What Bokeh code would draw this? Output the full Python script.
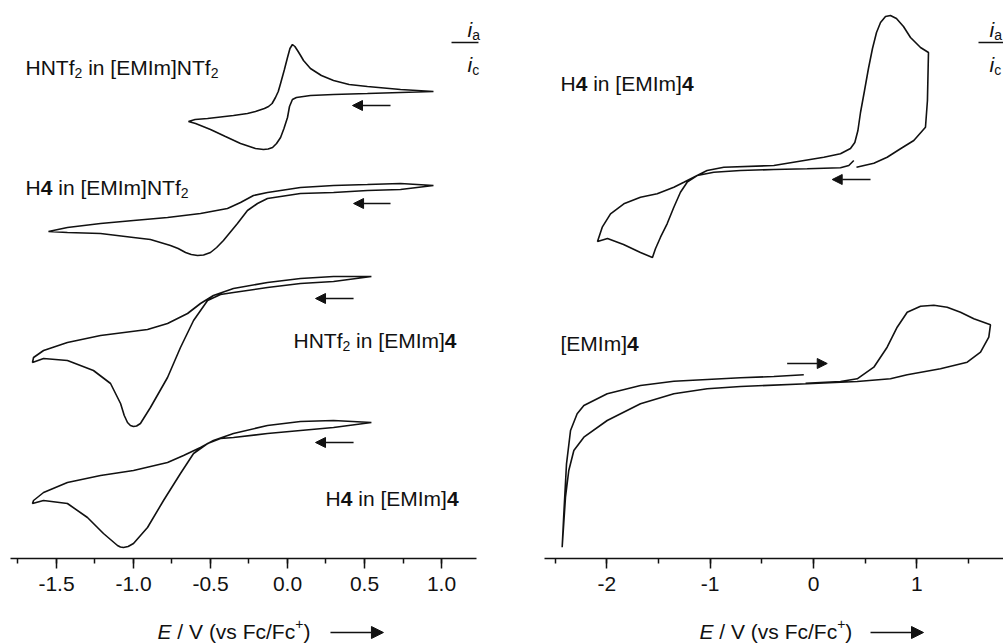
from bokeh.plotting import figure
from bokeh.layouts import row, column
from bokeh.models import (Label, Arrow, NormalHead, Range1d,
                          SingleIntervalTicker, NumeralTickFormatter)
from bokeh.embed import file_html
from bokeh.resources import INLINE

# ---------------- data (E / V vs Fc/Fc+, current in arbitrary offset units) ----------------
# left panel
cv1_E = [0.948, 0.734, 0.519, 0.299, 0.149, 0.058, 0.032, 0.013, 0.0, -0.023, -0.045, -0.071,
         -0.097, -0.126, -0.156, -0.182, -0.208, -0.305, -0.403, -0.5, -0.597, -0.643,
         -0.600, -0.519, -0.435, -0.351, -0.260, -0.208, -0.150, -0.123, -0.100, -0.078,
         -0.060, -0.045, -0.020, 0.0, 0.016, 0.032, 0.048, 0.065, 0.085, 0.104, 0.149,
         0.220, 0.299, 0.400, 0.519, 0.734, 0.948]
cv1_I = [467, 466, 465, 464, 463, 461, 459, 452, 441, 430, 421, 415,
         411, 409.5, 409, 409.5, 410, 415, 422, 429, 435, 437,
         439, 440, 441.5, 443, 445, 447, 450, 452, 455, 461,
         467, 475, 489, 501, 510, 514, 512, 508, 503, 498, 490,
         483, 478, 474, 472, 469, 467]

cv2_E = [0.948, 0.734, 0.519, 0.299, 0.084, -0.130, -0.195, -0.260, -0.325, -0.416, -0.460,
         -0.5, -0.545, -0.584, -0.625, -0.662, -0.710, -0.760, -0.890, -1.0, -1.214, -1.429,
         -1.552, -1.429, -1.214, -1.0, -0.779, -0.565, -0.390, -0.305, -0.221, -0.130, 0.084,
         0.299, 0.519, 0.734, 0.948]
cv2_I = [373, 369, 368, 366, 365, 360, 355, 348, 335, 318, 311,
         306, 303.5, 303, 304, 306, 310, 313, 319, 321, 325, 326,
         327, 331, 335, 338, 341, 345, 350, 356, 363, 366, 371,
         373, 374, 375, 373]

cv3_E = [0.545, 0.299, 0.084, -0.130, -0.351, -0.435, -0.519, -0.610, -0.695, -0.779,
         -0.890, -0.955, -0.980, -1.0, -1.020, -1.039, -1.060, -1.084, -1.149, -1.260,
         -1.429, -1.584, -1.656,
         -1.649, -1.584, -1.429, -1.214, -0.909, -0.779, -0.649, -0.565, -0.481, -0.351,
         -0.130, 0.084, 0.299, 0.545]
cv3_I = [282, 277, 275, 271, 266, 264, 258, 238, 211, 181,
         151, 135, 132.5, 132, 133, 136, 143, 155, 175, 188,
         198, 200, 196,
         201, 208, 216, 223, 229, 235, 245, 255, 263, 270,
         276, 280, 282, 282]

cv4_E = [0.545, 0.299, 0.084, -0.130, -0.351, -0.435, -0.519, -0.610, -0.695, -0.805,
         -0.909, -1.0, -1.035, -1.065, -1.085, -1.104, -1.195, -1.299, -1.429, -1.584, -1.656,
         -1.649, -1.584, -1.429, -1.214, -1.0, -0.779, -0.675, -0.565, -0.481, -0.351,
         -0.130, 0.084, 0.299, 0.545]
cv4_I = [136, 131, 128, 125, 121, 120, 115, 105, 85, 58,
         31, 15, 12, 11, 11.5, 13, 25, 41, 55, 58, 55,
         58, 66, 76, 83, 88, 96, 103, 111, 118, 125,
         133, 137, 138, 136]

# right panel
cv5_E = [0.390, 0.342, 0.261, -0.061, -0.384, -0.707, -0.965, -1.126, -1.223, -1.288,
         -1.352, -1.417, -1.481, -1.530, -1.559, -1.675, -1.839, -1.994, -2.091,
         -2.045, -1.965, -1.836, -1.675, -1.513, -1.352, -1.255, -1.126, -1.030, -0.868,
         -0.384, 0.100, 0.261, 0.358, 0.400, 0.430, 0.455, 0.494, 0.532, 0.571, 0.610,
         0.649, 0.697, 0.745, 0.803, 0.871, 0.939, 1.036, 1.113,
         1.103, 1.084, 0.971, 0.842, 0.713, 0.584, 0.416]
cv5_I = [398, 393, 390.7, 389.7, 389, 388, 386.3, 383, 376.3, 366.3,
         351.3, 334.7, 321.3, 309.7, 301, 306, 314, 320, 317,
         331.3, 344.7, 354.7, 361.3, 364.7, 371.3, 376.3, 383, 388, 391.3,
         393, 401.3, 404.7, 410, 416, 428, 446, 468, 490, 510, 526,
         536, 542, 543, 540, 532, 521, 511, 506,
         458, 431.3, 418, 409.7, 401.3, 395.3, 391.3]

cv6_E = [-0.077, 0.261, 0.423, 0.584, 0.713, 0.810, 0.907, 1.036, 1.165, 1.294, 1.423,
         1.552, 1.713, 1.697, 1.617, 1.488, 1.229, 0.907, 0.745, 0.423, -0.061, -0.707,
         -1.029, -1.352, -1.675, -1.997, -2.223, -2.320, -2.369, -2.401, -2.433,
         -2.417, -2.391, -2.352, -2.288, -2.223, -1.997, -1.675, -1.352, -1.029, -0.707,
         -0.384, -0.094]
cv6_I = [175.3, 177, 179.7, 191.3, 211.3, 231.3, 246.3, 252.3, 253.3, 251.3, 246.3,
         239.7, 233.7, 221.3, 206.3, 196.3, 189.7, 183.7, 179.7, 177, 174.7, 172,
         169.7, 164.7, 154.7, 138, 121.3, 108, 88, 61.3, 11.3,
         44.7, 94.7, 128, 144.7, 153, 164.7, 173, 177.3, 179, 180.7,
         182, 183.7]

# scan-direction arrows: (E_start, E_end, I)
left_arrows = [(0.669, 0.422, 453), (0.669, 0.429, 355), (0.429, 0.182, 260), (0.429, 0.182, 116)]
right_arrows = [(0.552, 0.181, 379), (-0.255, 0.133, 195)]

left_ticks_interval = 0.5
right_ticks_interval = 1.0

FONT = "Liberation Sans"
INK = "#111111"

# Arial / Liberation Sans advance widths (per 1000 em)
WID = {"H": 722, "N": 722, "T": 611, "f": 278, "i": 222, "n": 556, " ": 278, "[": 278,
       "E": 667, "M": 833, "I": 278, "m": 833, "]": 278, "2": 556, "4": 556, "a": 556,
       "c": 500, "/": 278, "V": 667, "(": 333, ")": 333, "v": 500, "s": 500, "F": 611,
       "+": 584}


def tw(s, size):
    return sum(WID.get(ch, 556) for ch in s) * size / 1000.0


def rich(p, x, y, pieces, size=21, baseline="alphabetic"):
    """pieces: list of (text, kind) kind in n, b, it, sub, sup"""
    off = 0.0
    for text, kind in pieces:
        fs = size if kind in ("n", "b", "it") else round(size * 0.66)
        dy = -5 if kind == "sub" else (8 if kind == "sup" else 0)
        lead = len(text) - len(text.lstrip(" "))
        off += lead * 0.278 * fs
        t = text.strip(" ")
        style = {"n": "normal", "b": "bold", "it": "italic", "sub": "normal", "sup": "normal"}[kind]
        p.add_layout(Label(x=x, y=y, x_offset=off, y_offset=dy, text=t,
                           text_font=FONT, text_font_size=f"{fs}px", text_font_style=style,
                           text_baseline=baseline, text_align="left", text_color=INK))
        off += tw(t, fs)
        trail = len(text) - len(text.rstrip(" "))
        off += trail * 0.278 * fs
    return off


def make_fig(xr, width, interval, fmt, bounds):
    p = figure(width=width, height=605, x_range=xr, y_range=Range1d(0, 558),
               output_backend="svg", toolbar_location=None, y_axis_location=None,
               min_border_left=0, min_border_right=0, min_border_top=0, min_border_bottom=47)
    p.outline_line_color = None
    p.grid.visible = False
    p.background_fill_color = "white"
    p.border_fill_color = "white"
    ax = p.xaxis[0]
    ax.bounds = bounds
    ax.ticker = SingleIntervalTicker(interval=interval, num_minor_ticks=2)
    ax.formatter = NumeralTickFormatter(format=fmt)
    ax.major_tick_in = 0
    ax.major_tick_out = 10
    ax.minor_tick_in = 0
    ax.minor_tick_out = 5
    ax.axis_line_width = 1.5
    ax.major_tick_line_width = 1.5
    ax.minor_tick_line_width = 1.5
    ax.axis_line_color = INK
    ax.major_tick_line_color = INK
    ax.minor_tick_line_color = INK
    ax.major_label_text_font = FONT
    ax.major_label_text_font_size = "21px"
    ax.major_label_text_color = INK
    ax.major_label_standoff = 8
    return p


def make_title_fig(xr, width):
    t = figure(width=width, height=38, x_range=xr, y_range=Range1d(0, 38),
               output_backend="svg", toolbar_location=None, x_axis_location=None,
               y_axis_location=None, min_border_left=0, min_border_right=0,
               min_border_top=0, min_border_bottom=0)
    t.outline_line_color = None
    t.grid.visible = False
    t.background_fill_color = "white"
    t.border_fill_color = "white"
    return t


def add_arrow(p, xs, xe, y, size=10, lw=1.5):
    p.add_layout(Arrow(x_start=xs, y_start=y, x_end=xe, y_end=y, line_width=lw, line_color=INK,
                       end=NormalHead(size=size, fill_color=INK, line_color=INK, line_width=1)))


TITLE = [("E", "it"), (" / V (vs Fc/Fc", "n"), ("+", "sup"), (")", "n")]

# ---------------- left panel ----------------
xr_left = Range1d(-1.8636, 1.3831)
pl = make_fig(xr_left, 500, left_ticks_interval, "0.0", (-1.799, 1.227))
for E, I in [(cv1_E, cv1_I), (cv2_E, cv2_I), (cv3_E, cv3_I), (cv4_E, cv4_I)]:
    pl.line(E, I, line_color=INK, line_width=1.6)
for xs, xe, y in left_arrows:
    add_arrow(pl, xs, xe, y)

rich(pl, -1.701, 491, [("HNTf", "n"), ("2", "sub"), (" in [EMIm]NTf", "n"), ("2", "sub")])
rich(pl, -1.701, 371, [("H", "n"), ("4", "b"), (" in [EMIm]NTf", "n"), ("2", "sub")])
rich(pl, 0.039, 218, [("HNTf", "n"), ("2", "sub"), (" in [EMIm]", "n"), ("4", "b")])
rich(pl, 0.247, 60, [("H", "n"), ("4", "b"), (" in [EMIm]", "n"), ("4", "b")])

# i_a / i_c
rich(pl, 1.169, 529, [("i", "it"), ("a", "sub")])
rich(pl, 1.169, 494, [("i", "it"), ("c", "sub")])
pl.add_layout(Arrow(x_start=1.065, y_start=516, x_end=1.240, y_end=516, line_width=1.5,
                    line_color=INK, end=None))

tl = make_title_fig(xr_left, 500)
rich(tl, -0.844, 12, TITLE, baseline="middle")
add_arrow(tl, 0.279, 0.623, 11, size=12)

# ---------------- right panel ----------------
xr_right = Range1d(-3.030, 1.8393)
pr = make_fig(xr_right, 503, right_ticks_interval, "0", (-2.604, 1.8393))
for E, I in [(cv5_E, cv5_I), (cv6_E, cv6_I)]:
    pr.line(E, I, line_color=INK, line_width=1.6)
for xs, xe, y in right_arrows:
    add_arrow(pr, xs, xe, y)

rich(pr, -2.449, 475, [("H", "n"), ("4", "b"), (" in [EMIm]", "n"), ("4", "b")])
rich(pr, -2.449, 215, [("[EMIm]", "n"), ("4", "b")])
rich(pr, 1.7038, 529, [("i", "it"), ("a", "sub")])
rich(pr, 1.7038, 494, [("i", "it"), ("c", "sub")])
pr.add_layout(Arrow(x_start=1.5973, y_start=516, x_end=1.90, y_end=516, line_width=1.5,
                    line_color=INK, end=None))

tr = make_title_fig(xr_right, 503)
rich(tr, -1.1036, 12, TITLE, baseline="middle")
add_arrow(tr, 0.552, 1.065, 11, size=12)

layout = column(row(pl, pr), row(tl, tr))
open("out.html", "w").write(file_html(layout, INLINE))
